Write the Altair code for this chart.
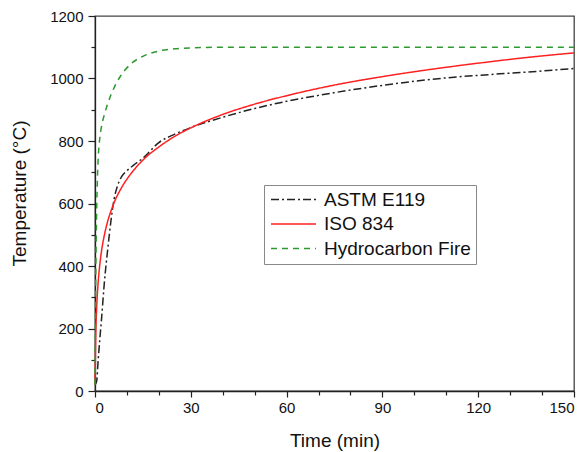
import altair as alt
import pandas as pd

# ---- data ----
astm_t = [0, 0.5, 1, 1.5, 2, 3, 4, 5, 6, 7, 8, 9, 10, 12, 15, 20, 25, 30, 40, 50, 60,
          70, 80, 90, 100, 110, 120, 130, 140, 150]
astm_T = [20, 30, 100, 165, 225, 355, 455, 545, 615, 655, 680, 695, 705, 722, 745, 795, 822, 843, 876, 904, 927,
          946, 963, 978, 991, 1002, 1010, 1017, 1024, 1032]

iso_t = [0, 0.25, 0.5, 1, 1.5, 2, 3, 4, 5, 6, 8, 10, 12, 15, 20, 25, 30, 40, 50, 60,
         75, 90, 105, 120, 135, 150]
iso_T = [20, 185, 261, 349, 404, 445, 502, 544, 576, 603, 645, 678, 705, 739, 781, 815, 842, 885, 918, 945,
         979, 1006, 1029, 1049, 1067, 1082]

hc_t = [0, 0.25, 0.5, 0.75, 1, 1.5, 2, 3, 4, 5, 6, 8, 10, 12, 15, 20, 25, 30, 40, 60, 90, 120, 150]
hc_T = [20, 373, 568, 678, 743, 810, 844, 887, 920, 948, 971, 1008, 1034, 1053, 1071, 1088, 1095, 1098, 1100,
        1100, 1100, 1100, 1100]

series = ["ASTM E119", "ISO 834", "Hydrocarbon Fire"]
colors = ["#222222", "#ff2020", "#2e9a2e"]
dashes = [[8, 3, 2, 3], [1, 0], [6, 5]]

x_major = [0, 30, 60, 90, 120, 150]
x_minor = [10, 20, 40, 50, 70, 80, 100, 110, 130, 140]
y_major = [0, 200, 400, 600, 800, 1000, 1200]
y_minor = [100, 300, 500, 700, 900, 1100]

rows = []
for name, ts, vs in [(series[0], astm_t, astm_T), (series[1], iso_t, iso_T), (series[2], hc_t, hc_T)]:
    for t, v in zip(ts, vs):
        rows.append({"t": t, "T": v, "series": name})
df = pd.DataFrame(rows)

FONT = "Liberation Sans, Arial, sans-serif"

xscale = alt.Scale(domain=[0, 150], nice=False, zero=False)
yscale = alt.Scale(domain=[0, 1200], nice=False)

legend = alt.Legend(
    title=None, orient="none", legendX=169, legendY=169,
    symbolType="M-1,0H5", symbolSize=225, symbolStrokeWidth=1.6,
    labelFont=FONT, labelFontSize=19, labelColor="#111",
    strokeColor="#888", padding=5, rowPadding=4.5, labelOffset=36,
)

lines = alt.Chart(df).mark_line(strokeWidth=1.5, interpolate="monotone").encode(
    x=alt.X("t:Q", scale=xscale,
            axis=alt.Axis(values=x_major, title="Time (min)", tickSize=6, labelPadding=3,
                          titleY=55.5, titleBaseline="alphabetic", orient="bottom", format="d")),
    y=alt.Y("T:Q", scale=yscale,
            axis=alt.Axis(values=y_major, title="Temperature (°C)", tickSize=7, labelPadding=5,
                          titleX=-70, titleY=177, titleBaseline="alphabetic", titleAlign="center",
                          orient="left", format="d")),
    color=alt.Color("series:N", scale=alt.Scale(domain=series, range=colors), sort=series, legend=legend),
    strokeDash=alt.StrokeDash("series:N", scale=alt.Scale(domain=series, range=dashes), sort=series,
                              legend=legend),
)

minor = alt.Chart(df).mark_line(opacity=0).encode(
    x=alt.X("t:Q", scale=xscale,
            axis=alt.Axis(values=x_minor, labels=False, title=None, tickSize=4, domain=False,
                          orient="bottom")),
    y=alt.Y("T:Q", scale=yscale,
            axis=alt.Axis(values=y_minor, labels=False, title=None, tickSize=4, domain=False,
                          orient="left")),
    detail="series:N",
)

chart = alt.layer(lines, minor).resolve_axis(x="independent", y="independent").properties(
    width=479, height=375,
    autosize=alt.AutoSizeParams(type="none"),
    padding={"left": 95, "top": 16, "right": 13, "bottom": 61},
).configure_view(
    stroke="#444", strokeWidth=1.3
).configure_axis(
    grid=False, domainColor="#222", domainWidth=1.3, tickColor="#222", tickWidth=1.2,
    labelFont=FONT, labelFontSize=15, labelColor="#111",
    titleFont=FONT, titleFontSize=19, titleFontWeight="normal", titleColor="#111",
)

chart.save("out.html", embed_options={"renderer": "svg", "actions": False})
